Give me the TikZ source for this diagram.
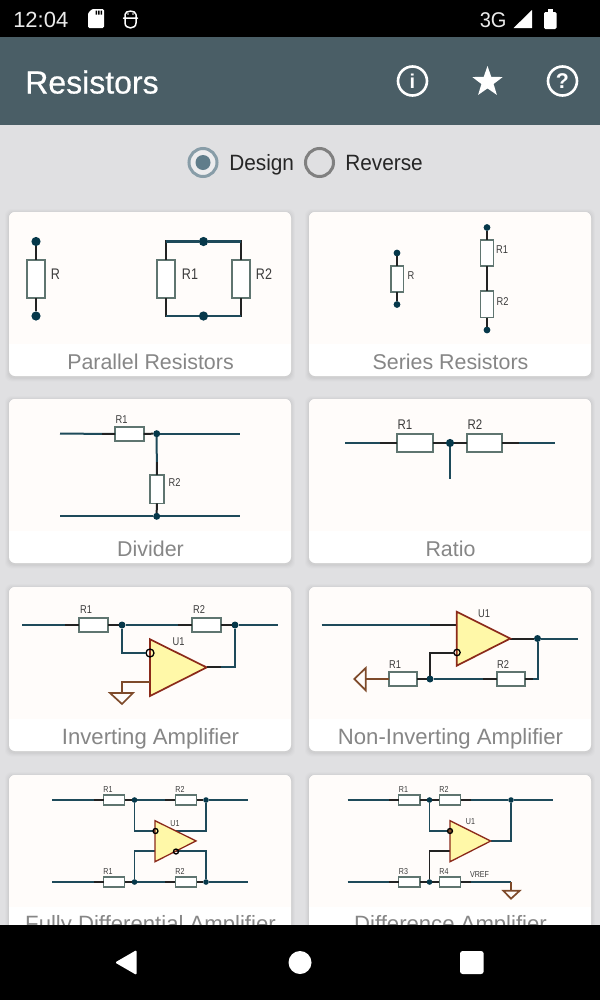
\documentclass[tikz,border=0pt]{standalone}
\usepackage{fontspec}
\setmainfont{Liberation Sans}
\newfontfamily\lblfont[FakeStretch=0.82]{Liberation Sans}
\newfontfamily\narrowf[FakeStretch=0.94]{Liberation Sans}
\newfontfamily\medfont[FakeBold=0.6]{Liberation Sans}
\usetikzlibrary{shapes.geometric}
\definecolor{bgcol}{HTML}{E0E0E2}
\definecolor{barcol}{HTML}{4A5E66}
\definecolor{tintcol}{HTML}{FFFCFA}
\definecolor{wirecol}{HTML}{1E4A5A}
\definecolor{stubcol}{HTML}{222222}
\definecolor{dotcol}{HTML}{06384A}
\definecolor{rescol}{HTML}{5F7570}
\definecolor{ampline}{HTML}{8B2A1A}
\definecolor{ampfill}{HTML}{FFF8A8}
\definecolor{gndcol}{HTML}{7E4A2A}
\definecolor{capcol}{HTML}{868686}
\definecolor{txtcol}{HTML}{3C3C3C}
\definecolor{radcol}{HTML}{607D8B}
\tikzset{
  sz/.style={font=\fontsize{#1}{#1}\selectfont},
  lsz/.style={font=\lblfont\fontsize{#1}{#1}\selectfont},
  nsz/.style={font=\narrowf\fontsize{#1}{#1}\selectfont},
  wire/.style={draw=wirecol,line width=(#1+0.4)*0.75pt},
  wire/.default=1.6,
  stub/.style={draw=stubcol,line width=(#1+0.4)*0.75pt},
  stub/.default=1.6,
  resbox/.style={draw=rescol,fill=white,rectangle,inner sep=0pt,outer sep=0pt},
  jdot/.style={circle,fill=dotcol,inner sep=0pt,outer sep=0pt},
  clabel/.style={text=txtcol,inner sep=0pt,anchor=center},
  title/.style={text=capcol,inner sep=0pt,anchor=base,sz=16.6},
  title16/.style={text=capcol,inner sep=0pt,anchor=base,sz=16.05},
  amp/.style={draw=ampline,fill=ampfill,line width=1.7*0.75pt,line join=miter},
  gnd/.style={draw=gndcol,line width=1.7*0.75pt},
  inv/.style={circle,draw=black,inner sep=0pt,outer sep=0pt,line width=1.3*0.75pt},
}
\newcommand{\Rb}[6]{\node[resbox,line width=(#6+0.3)*0.75pt,minimum width=#4*0.75pt,minimum height=#5*0.75pt] (#1) at (#2,#3) {};}
\newcommand{\Jd}[4]{\node[jdot,minimum size=(#4+0.6)*0.75pt] (#1) at (#2,#3) {};}
\newcommand{\Cl}[5]{\node[clabel,lsz=#5] (#1) at (#2,#3) {#4};}
\newcommand{\card}[2]{%
  \foreach \s/\o in {4/0.012,3/0.016,2/0.02,1/0.025}{
    \fill[black,opacity=\o,rounded corners=4.5pt] (#1-\s,#2-\s+1) rectangle (#1+282+\s,#2+164+\s+1.5);
  }
  \fill[white,rounded corners=4.5pt] (#1,#2) rectangle (#1+282,#2+164);
  \begin{scope}
    \clip[rounded corners=4.5pt] (#1,#2) rectangle (#1+282,#2+164);
    \fill[tintcol] (#1,#2) rectangle (#1+282,#2+132);
  \end{scope}
}
\begin{document}
\begin{tikzpicture}[x=0.75pt,y=-0.75pt]
\useasboundingbox (0,0) rectangle (600,1000);
\fill[bgcol] (0,0) rectangle (600,1000);
% app bar
\fill[barcol] (0,37) rectangle (600,125);
\node[anchor=base west,inner sep=0pt,text=white,font=\medfont\fontsize{24}{24}\selectfont] (apptitle) at (25,93.5) {Resistors};
\node[circle,draw=white,line width=2.6*0.75pt,minimum size=29*0.75pt,inner sep=0pt] (infoicon) at (412.5,81) {};
\node[text=white,inner sep=0pt,font=\bfseries\fontsize{15}{15}\selectfont] (infotext) at (412.5,81) {i};
\node[star,star points=5,star point ratio=2.5,fill=white,minimum size=32*0.75pt,inner sep=0pt] (staricon) at (487.5,82) {};
\node[circle,draw=white,line width=2.6*0.75pt,minimum size=29*0.75pt,inner sep=0pt] (helpicon) at (562.5,81) {};
\node[text=white,inner sep=0pt,font=\bfseries\fontsize{16}{16}\selectfont] (helptext) at (562.5,81) {?};
% radio
\node[circle,draw=radcol!75!white,line width=3*0.75pt,fill=bgcol!60!white,minimum size=28*0.75pt,inner sep=0pt] (radioa) at (203,162.5) {};
\node[circle,fill=radcol,minimum size=15*0.75pt,inner sep=0pt] (radioadot) at (203,162.5) {};
\node[anchor=base west,inner sep=0pt,text=black!85,nsz=16.6] (design) at (229,170.7) {Design};
\node[circle,draw=black!50,line width=3*0.75pt,minimum size=28*0.75pt,inner sep=0pt] (radiob) at (319.5,162.5) {};
\node[anchor=base west,inner sep=0pt,text=black!85,nsz=16.6] (reverse) at (345,170.7) {Reverse};
% cards
\card{9}{212}
\card{309}{212}
\card{9}{399}
\card{309}{399}
\card{9}{587}
\card{309}{587}
\card{9}{775}
\card{309}{775}
\node[title16] (c1) at (150.5,369) {Parallel Resistors};
\node[title16] (c2) at (450.5,369) {Series Resistors};
\node[title16] (c3) at (150.5,556.7) {Divider};
\node[title16] (c4) at (450.5,556.7) {Ratio};
\node[title] (c5) at (150.5,744) {Inverting Amplifier};
\node[title] (c6) at (450.5,744) {Non-Inverting Amplifier};
\node[title] (c7) at (150.5,931) {Fully Differential Amplifier};
\node[title] (c8) at (450.5,931) {Difference Amplifier};

% --- Card 1
\Jd{a1}{36}{241.5}{8.6}\Jd{a2}{36}{316}{8.6}
\Rb{ar}{36}{279}{18.5}{38}{1.7}
\draw[stub=1.8] (a1) -- (ar.north); \draw[stub=1.8] (ar.south) -- (a2);
\Cl{arl}{55.5}{274}{R}{11.5}
\Jd{b1}{203.5}{241.5}{8.6}\Jd{b2}{203.5}{316}{8.6}
\Rb{br1}{166}{279}{18.5}{38}{1.7}
\Rb{br2}{241}{279}{18.5}{38}{1.7}
\draw[stub=1.8] (br1.north) |- (b1);
\draw[stub=1.8] (br2.north) |- (b1);
\draw[stub=1.8] (br1.south) |- (b2);
\draw[stub=1.8] (br2.south) |- (b2);
\draw[wire=1.8] (166,241.5) -- (b1) -- (241,241.5);
\draw[wire=1.8] (166,316) -- (b2) -- (241,316);
\Cl{br1l}{190}{274}{R1}{11.5}
\Cl{br2l}{264}{274}{R2}{11.5}

% --- Card 2
\Jd{c2a}{397}{253}{6.2}\Jd{c2b}{397}{304.5}{6.2}
\Rb{cr}{397}{279}{12.6}{26.3}{1.3}
\draw[stub=1.5] (c2a) -- (cr.north); \draw[stub=1.5] (cr.south) -- (c2b);
\Cl{crl}{411}{275.5}{R}{8.5}
\Jd{d1}{487}{227.5}{6.2}\Jd{d2}{487}{330}{6.2}
\Rb{dr1}{487}{253}{13}{26}{1.3}
\Rb{dr2}{487}{304.3}{13}{26.7}{1.3}
\draw[stub=1.5] (d1) -- (dr1.north);
\draw[stub=1.5] (dr1.south) -- (dr2.north);
\draw[stub=1.5] (dr2.south) -- (d2);
\Cl{dr1l}{502}{249.5}{R1}{8.5}
\Cl{dr2l}{502.5}{301.5}{R2}{8.5}

% --- Card 3
\coordinate (e1) at (60,433.7); \coordinate (e2) at (240,433.7);
\coordinate (e3) at (60,516.3); \coordinate (e4) at (240,516.3);
\Rb{er1}{129.5}{433.8}{28.4}{14.3}{1.4}
\Jd{ej1}{156.7}{433.7}{6.4}\Jd{ej2}{156.7}{516.3}{6.4}
\Rb{er2}{156.8}{489.2}{14.3}{28.3}{1.4}
\draw[wire] (e1) -- (er1.west);
\draw[stub] (er1.west) -- ++(-13,0);
\draw[stub] (er1.east) -- (ej1);
\draw[wire] (ej1) -- (e2);
\draw[wire] (ej1) -- (er2.north);
\draw[stub] (er2.north) -- ++(0,-13);
\draw[stub] (er2.south) -- (ej2);
\draw[wire] (e3) -- (ej2) -- (e4);
\Cl{er1l}{121.5}{419.5}{R1}{8.5}
\Cl{er2l}{174.5}{483}{R2}{8.5}

% --- Card 4
\coordinate (f1) at (345,443); \coordinate (f2) at (555,443); \coordinate (f3) at (450,479);
\Rb{fr1}{415.2}{443}{35.7}{17.7}{1.7}
\Rb{fr2}{484.5}{443}{35.7}{17.7}{1.7}
\Jd{fj}{450}{443}{7.6}
\draw[wire=1.8] (f1) -- (fr1.west);
\draw[stub=1.8] (fr1.west) -- ++(-17,0);
\draw[stub=1.8] (fr1.east) -- (fj);
\draw[stub=1.8] (fj) -- (fr2.west);
\draw[wire=1.8] (fr2.east) -- (f2);
\draw[stub=1.8] (fr2.east) -- ++(17,0);
\draw[wire=2] (fj) -- (f3);
\Cl{fr1l}{405}{425}{R1}{10.5}
\Cl{fr2l}{475}{425}{R2}{10.5}

% --- Card 5
\coordinate (g1) at (22,625); \coordinate (g2) at (278,625);
\Rb{gr1}{93.4}{625}{29.3}{14.6}{1.4}
\Rb{gr2}{206.5}{625}{29}{14.6}{1.4}
\Jd{gj1}{122}{625}{6.4}\Jd{gj2}{235}{625}{6.4}
\coordinate (ga) at (150,639.3); \coordinate (gb) at (150,696); \coordinate (gc) at (206.7,667.4);
\coordinate (gin) at (150,682);
\coordinate (gt1) at (110,693); \coordinate (gt2) at (133,693); \coordinate (gt3) at (122,704); \coordinate (gtop) at (122,693);
\draw[wire] (g1) -- (gr1.west);
\draw[stub] (gr1.west) -- ++(-14,0);
\draw[stub] (gr1.east) -- (gj1);
\draw[wire] (gj1) -- (gr2.west);
\draw[stub] (gr2.west) -- ++(-14,0);
\draw[stub] (gr2.east) -- (gj2);
\draw[wire] (gj2) -- (g2);
\draw[wire] (gj2) |- (gc);
\draw[amp] (ga) -- (gb) -- (gc) -- cycle;
\node[inv,minimum size=8*0.75pt] (gi) at (150,653) {};
\draw[wire] (gj1) |- (gi.west);
\draw[stub=1.5] (gc) -- ++(14,0);
\draw[gnd] (gin) -| (gtop);
\draw[gnd] (gt1) -- (gt2) -- (gt3) -- cycle;
\Cl{gr1l}{86}{610}{R1}{8.5}
\Cl{gr2l}{199}{610}{R2}{8.5}
\Cl{gul}{178.5}{642}{U1}{8.5}

% --- Card 6
\coordinate (h1) at (321.5,625); \coordinate (h2) at (578,638.5);
\coordinate (ha) at (456.7,611.7); \coordinate (hb) at (456.7,665.7); \coordinate (hc) at (510.3,638.5);
\coordinate (hin) at (456.7,625);
\Jd{hj1}{537.5}{638.5}{6.4}\Jd{hj2}{430}{679}{6.4}
\Rb{hr1}{402.7}{679}{28}{13.7}{1.4}
\Rb{hr2}{510.7}{679}{28}{13.7}{1.4}
\coordinate (ht1) at (365.7,668); \coordinate (ht2) at (365.7,690.3); \coordinate (ht3) at (354.3,679); \coordinate (htop) at (365.7,679);
\draw[wire] (h1) -- (hin);
\draw[stub] (hin) -- ++(-27,0);
\draw[stub] (hc) -- (hj1);
\draw[wire] (hj1) -- (h2);
\draw[stub] (hr1.east) -- (hj2);
\draw[wire] (hj2) -- (hr2.west);
\draw[stub] (hr2.west) -- ++(-14,0);
\draw[wire] (hr2.east) -| (hj1);
\draw[stub] (hr2.east) -- ++(8,0);
\draw[amp] (ha) -- (hb) -- (hc) -- cycle;
\node[inv,minimum size=6.4*0.75pt] (hi) at (457,652.5) {};
\draw[stub] (hi.west) -| (hj2);
\draw[gnd] (ht1) -- (ht2) -- (ht3) -- cycle;
\draw[gnd] (htop) -- (hr1.west);
\Cl{hr1l}{395}{665}{R1}{8.5}
\Cl{hr2l}{503}{665}{R2}{8.5}
\Cl{hul}{484}{613.5}{U1}{8.5}

% --- Card 7
\coordinate (i1) at (52,800); \coordinate (i2) at (248,800);
\coordinate (i3) at (52,882); \coordinate (i4) at (248,882);
\Rb{ir1}{114.2}{800}{21}{10}{1.2}
\Rb{ir2}{186}{800}{21.4}{10}{1.2}
\Rb{ir3}{114.2}{882}{21}{10}{1.2}
\Rb{ir4}{186}{882}{21.4}{10}{1.2}
\Jd{ij1}{134.5}{800}{5}\Jd{ij2}{206}{800}{5}\Jd{ij3}{134.5}{882}{5}\Jd{ij4}{206}{882}{5}
\coordinate (ia) at (155,820.7); \coordinate (ib) at (155,861.7); \coordinate (ic) at (196,840.9);
\coordinate (io) at (175,831); \coordinate (il) at (155,851);
\draw[wire=1.4] (i1) -- (ir1.west); \draw[stub=1.4] (ir1.west) -- ++(-10,0);
\draw[stub=1.4] (ir1.east) -- (ij1);
\draw[wire=1.4] (ij1) -- (ir2.west); \draw[stub=1.4] (ir2.west) -- ++(-10,0);
\draw[stub=1.4] (ir2.east) -- (ij2);
\draw[wire=1.4] (ij2) -- (i2);
\draw[wire=1.4] (i3) -- (ir3.west); \draw[stub=1.4] (ir3.west) -- ++(-10,0);
\draw[stub=1.4] (ir3.east) -- (ij3);
\draw[wire=1.4] (ij3) -- (ir4.west); \draw[stub=1.4] (ir4.west) -- ++(-10,0);
\draw[stub=1.4] (ir4.east) -- (ij4);
\draw[wire=1.4] (ij4) -- (i4);
\draw[wire=1.4] (ij1) |- (ia |- io);
\draw[wire=1.4] (io) -| (ij2);
\draw[wire=1.4] (il) -| (ij3);
\draw[wire=1.4] (176,851) -| (ij4);
\draw[amp,line width=1.3*0.75pt] (ia) -- (ib) -- (ic) -- cycle;
\node[inv,minimum size=5*0.75pt] (ii1) at (155.5,831) {};
\node[inv,minimum size=5*0.75pt] (ii2) at (176,851.5) {};
\Cl{ir1l}{108}{789.5}{R1}{6.5}
\Cl{ir2l}{180}{789.5}{R2}{6.5}
\Cl{iul}{175}{824}{U1}{6.5}
\Cl{ir3l}{108}{871.5}{R1}{6.5}
\Cl{ir4l}{180}{871.5}{R2}{6.5}

% --- Card 8
\coordinate (k1) at (347.5,800); \coordinate (k2) at (553,800);
\coordinate (k3) at (347.5,882); \coordinate (k4) at (511,882);
\Rb{kr1}{409.3}{800}{21.4}{10}{1.2}
\Rb{kr2}{450}{800}{21.4}{10}{1.2}
\Rb{kr3}{409.3}{882}{21.4}{10}{1.2}
\Rb{kr4}{450}{882}{21.4}{10}{1.2}
\Jd{kj1}{429.5}{800}{5}\Jd{kj2}{511}{800}{5}\Jd{kj3}{429.5}{882}{5}
\coordinate (ka) at (450,820.7); \coordinate (kb) at (450,861.7); \coordinate (kc) at (490.7,841);
\coordinate (kl) at (450,851);
\coordinate (kt1) at (503.3,890.7); \coordinate (kt2) at (519.7,890.7); \coordinate (kt3) at (511,898.7); \coordinate (ktop) at (511,890.7);
\draw[wire=1.4] (k1) -- (kr1.west); \draw[stub=1.4] (kr1.west) -- ++(-10,0);
\draw[stub=1.4] (kr1.east) -- (kj1) -- (kr2.west);
\draw[wire=1.4] (kr2.east) -- (kj2) -- (k2);
\draw[stub=1.4] (kr2.east) -- ++(10,0);
\draw[wire=1.4] (k3) -- (kr3.west); \draw[stub=1.4] (kr3.west) -- ++(-10,0);
\draw[stub=1.4] (kr3.east) -- (kj3) -- (kr4.west);
\draw[wire=1.4] (kr4.east) -- (k4);
\draw[stub=1.4] (kr4.east) -- ++(10,0);
\draw[gnd] (k4) -- (ktop);
\draw[gnd] (kt1) -- (kt2) -- (kt3) -- cycle;
\draw[wire=1.4] (kj1) |- (450,831);
\draw[stub=1.4] (kl) -| (kj3);
\draw[wire=1.4] (kc) -| (kj2);
\draw[amp,line width=1.3*0.75pt] (ka) -- (kb) -- (kc) -- cycle;
\node[inv,fill=gndcol,minimum size=5*0.75pt] (ki) at (450,831) {};
\Cl{kr1l}{403.5}{789.5}{R1}{6.5}
\Cl{kr2l}{444}{789.5}{R2}{6.5}
\Cl{kul}{470.5}{822}{U1}{6.5}
\Cl{kr3l}{403.5}{871.5}{R3}{6.5}
\Cl{kr4l}{444}{871.5}{R4}{6.5}
\Cl{kvl}{479.5}{875}{VREF}{6.5}

% status bar
\fill[black] (0,0) rectangle (600,37);
\node[anchor=base west,inner sep=0pt,text=white!92!black,sz=16.5] (clock) at (13,27.3) {12:04};
\fill[white,rounded corners=1pt] (88,13) -- (92,9) -- (104,9) -- (104,28) -- (88,28) -- cycle;
\fill[black] (95.5,10.5) rectangle (97,14.5) (98,10.5) rectangle (99.5,14.5) (100.5,10.5) rectangle (102,14.5);
\draw[white,line width=1.5*0.75pt,line cap=round] (125,14.5) .. controls (125,10) and (136,10) .. (136,14.5) (123.5,18) -- (137.5,18) (125,14.5) -- (125,18) (136,14.5) -- (136,18) (125,18) -- (125,23) .. controls (125,29.5) and (136,29.5) .. (136,23) -- (136,18);
\fill[white] (128,14) circle (0.9) (133,14) circle (0.9);
\node[anchor=base west,inner sep=0pt,text=white!92!black,nsz=16] (net) at (479.5,27) {3G};
\fill[white] (513.6,28) -- (532,28) -- (532,10) -- cycle;
\fill[white,rounded corners=1pt] (544,12) rectangle (556.5,29);
\fill[white] (548,9) rectangle (552.5,13);

% navigation bar
\fill[black] (0,925) rectangle (600,1000);
\fill[white,rounded corners=1pt] (115,962.5) -- (136.6,950) -- (136.6,975) -- cycle;
\fill[white] (300,962.5) circle (11.5);
\fill[white,rounded corners=2pt] (460,951) rectangle (483.7,974);
\end{tikzpicture}
\end{document}
